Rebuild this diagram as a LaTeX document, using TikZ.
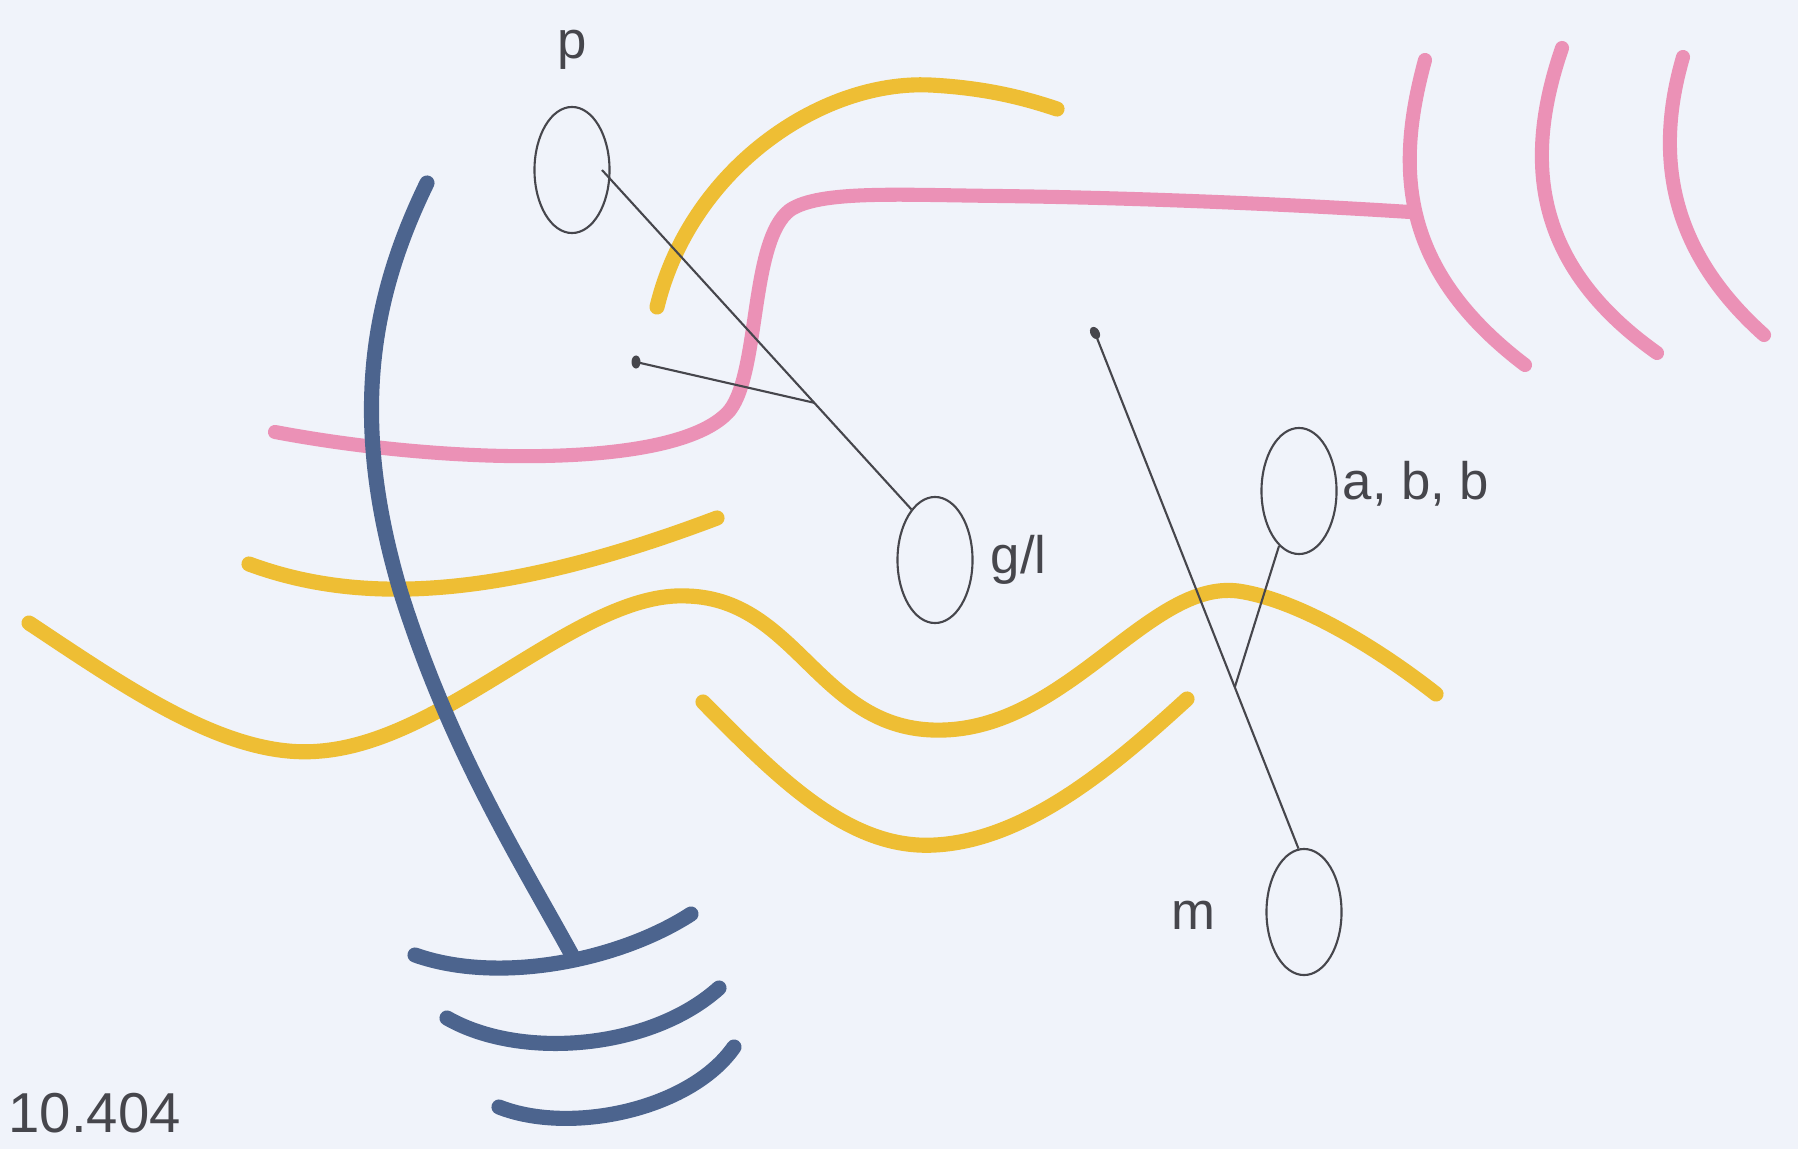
\documentclass[tikz,border=0pt]{standalone}
\usepackage{fontspec}
\setmainfont{Liberation Sans}
\usetikzlibrary{shapes.geometric,calc}
\definecolor{paper}{RGB}{240,243,250}
\definecolor{mk yellow}{RGB}{238,190,52}
\definecolor{mk pink}{RGB}{235,145,182}
\definecolor{mk blue}{RGB}{76,100,142}
\definecolor{pen}{RGB}{70,70,76}
\begin{document}
\begin{tikzpicture}[x=0.01cm,y=-0.01cm,
  oval/.style={draw=pen, line width=0.6pt, ellipse, inner sep=0pt, minimum width=0.75cm, minimum height=1.26cm},
  lbl/.style={text=pen, font=\fontsize{15}{18}\selectfont, inner sep=0pt},
  pin/.style={fill=pen, ellipse, inner sep=0pt, minimum width=0.09cm, minimum height=0.13cm},
  wire/.style={draw=pen, line width=0.6pt},
  ymark/.style={draw=mk yellow, line width=4.3pt, line cap=round, line join=round},
  pmark/.style={draw=mk pink, line width=4pt, line cap=round, line join=round},
  bmark/.style={draw=mk blue, line width=4.3pt, line cap=round, line join=round}]
\useasboundingbox[fill=paper] (0,0) rectangle (1798,1149);
\clip (0,0) rectangle (1798,1149);

% yellow strokes
\draw[ymark] (657,307) .. controls (690,170) and (820,80) .. (930,85) .. controls (990,88) and (1030,100) .. (1057,109);
\draw[ymark] (249,564) .. controls (360,605) and (500,600) .. (717,518);
\draw[ymark] (29,623) .. controls (130,690) and (230,760) .. (321,751) .. controls (450,740) and (580,590) .. (688,596) .. controls (800,600) and (820,735) .. (945,730) .. controls (1070,725) and (1150,580) .. (1238,591) .. controls (1300,600) and (1380,650) .. (1436,694);
\draw[ymark] (703,702) .. controls (780,780) and (850,850) .. (935,845) .. controls (1030,840) and (1120,760) .. (1187,699);

% pink strokes
\draw[pmark] (275,432) .. controls (450,465) and (680,470) .. (730,410) .. controls (760,370) and (750,240) .. (790,210) .. controls (820,190) and (900,195) .. (1000,196) .. controls (1150,198) and (1300,205) .. (1410,212);
\draw[pmark] (1425,60) .. controls (1395,170) and (1400,270) .. (1525,365);
\draw[pmark] (1562,48) .. controls (1520,170) and (1540,270) .. (1657,353);
\draw[pmark] (1683,57) .. controls (1650,170) and (1680,260) .. (1764,335);

% blue strokes
\draw[bmark] (427,183) .. controls (370,300) and (350,420) .. (400,590) .. controls (450,750) and (520,860) .. (573,957);
\draw[bmark] (415,955) .. controls (500,985) and (620,960) .. (691,914);
\draw[bmark] (447,1018) .. controls (520,1060) and (650,1050) .. (719,988);
\draw[bmark] (499,1107) .. controls (570,1135) and (690,1110) .. (734,1047);

% ovals and labels
\node[oval] (p) at (572,170) {};
\node[oval] (gl) at (935,560) {};
\node[oval] (ab) at (1299,491) {};
\node[oval] (m) at (1304,912) {};
\node[lbl] (tp) at (572,50) {p};
\node[lbl, anchor=west] (tgl) at (990,560) {g/l};
\node[lbl, anchor=west] (tab) at (1342,484) {a, b, b};
\node[lbl] (tm) at (1193,915) {m};
\node[text=pen, font=\fontsize{16}{19}\selectfont, inner sep=0pt, anchor=base west] (tnum) at (8,1132) {10.404};

% pins
\node[pin] (d1) at (636,362) {};
\node[pin, rotate=30] (d2) at (1095,333) {};

% wires
\coordinate (pa) at ($(p.center)+(30,0)$);
\draw[wire] (pa) -- (gl.115);
\coordinate (j1) at ($(pa)!0.686!(gl.115)$);
\draw[wire] (d1.center) -- (j1);
\draw[wire] (d2.center) -- (m.95);
\coordinate (j2) at ($(d2)!0.687!(m.95)$);
\draw[wire] (ab.250) -- (j2);
\end{tikzpicture}
\end{document}
